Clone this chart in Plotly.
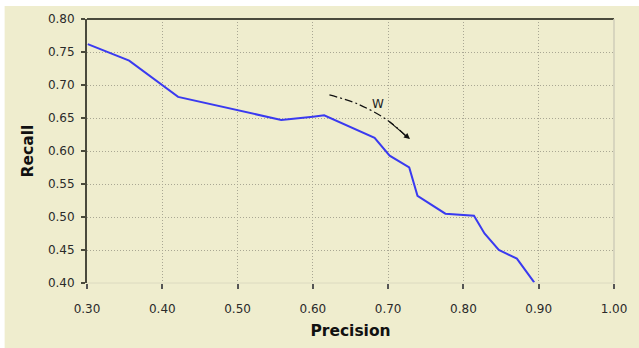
import plotly.graph_objects as go

precision = [0.301, 0.356, 0.421, 0.558, 0.600, 0.615, 0.682, 0.702, 0.728, 0.739,
             0.776, 0.795, 0.814, 0.828, 0.847, 0.871, 0.894]
recall = [0.762, 0.737, 0.682, 0.647, 0.652, 0.654, 0.620, 0.593, 0.575, 0.532,
          0.505, 0.504, 0.502, 0.475, 0.450, 0.437, 0.401]

arrow_x = [0.622, 0.660, 0.700, 0.729]
arrow_y = [0.685, 0.671, 0.646, 0.618]
arrow_label = "W"
label_x = 0.686
label_y = 0.671
x_ticks = [0.3, 0.4, 0.5, 0.6, 0.7, 0.8, 0.9, 1.0]
y_ticks = [0.40, 0.45, 0.50, 0.55, 0.60, 0.65, 0.70, 0.75, 0.80]

BG = "#EFEDCE"
GRID = "#A9A793"
tick_font = "DejaVu Sans, Verdana, sans-serif"

fig = go.Figure()
fig.add_trace(go.Scatter(x=precision, y=recall, mode="lines",
                         line=dict(color="#3A3AF0", width=2), showlegend=False))
fig.add_trace(go.Scatter(x=arrow_x[:-1] + [arrow_x[-1] - 0.004], y=arrow_y[:-1] + [arrow_y[-1] + 0.003],
                         mode="lines",
                         line=dict(color="#111111", width=1.2, dash="8px,3px,2px,3px", shape="spline"),
                         showlegend=False))
fig.add_annotation(x=arrow_x[-1], y=arrow_y[-1], ax=arrow_x[-2], ay=arrow_y[-2],
                   xref="x", yref="y", axref="x", ayref="y", text="",
                   showarrow=True, arrowhead=2, arrowsize=1, arrowwidth=1.2, arrowcolor="#111111",
                   standoff=0)
fig.add_annotation(x=label_x, y=label_y, text=arrow_label, showarrow=False,
                   font=dict(family=tick_font, size=12, color="#222"))

fig.update_layout(
    width=639, height=348,
    margin=dict(l=87, r=21, t=19, b=65),
    paper_bgcolor="white", plot_bgcolor=BG,
    font=dict(family=tick_font, size=12, color="#2A2A2A"),
    shapes=[
        dict(type="rect", xref="paper", yref="paper", x0=-0.1563, x1=1.2, y0=-0.3, y1=1.049,
             fillcolor=BG, line=dict(width=0), layer="below"),
        dict(type="line", xref="paper", yref="paper", x0=0, x1=1, y0=1, y1=1,
             line=dict(color="#4A4A3C", width=2)),
        dict(type="line", xref="paper", yref="paper", x0=1, x1=1, y0=0, y1=1,
             line=dict(color="#CFCDB8", width=1.5)),
        dict(type="line", xref="paper", yref="paper", x0=0, x1=1, y0=0, y1=0,
             line=dict(color="#DCDAC0", width=1)),
    ],
    xaxis=dict(range=[0.3, 1.0], tickvals=x_ticks, tickformat=".2f",
               showgrid=True, gridcolor=GRID, griddash="1px,2px", gridwidth=1,
               showline=False, zeroline=False,
               ticks="outside", ticklen=5, tickcolor="#555", tickwidth=1.5,
               ticklabelstandoff=10,
               title=dict(text="<b>Precision</b>",
                          font=dict(family=tick_font, size=15.5, color="#111"), standoff=9)),
    yaxis=dict(range=[0.4, 0.8], tickvals=y_ticks, tickformat=".2f",
               showgrid=True, gridcolor=GRID, griddash="1px,2px", gridwidth=1,
               showline=True, linecolor="#4A4A3C", linewidth=2, zeroline=False,
               ticks="outside", ticklen=4, tickcolor="#4A4A3C", tickwidth=1.5,
               ticklabelstandoff=4,
               title=dict(text="<b>Recall</b>",
                          font=dict(family=tick_font, size=15.5, color="#111"), standoff=10)),
)

fig.write_html("out.html", config={"displayModeBar": False},
               post_script="document.body.style.margin='0';")
